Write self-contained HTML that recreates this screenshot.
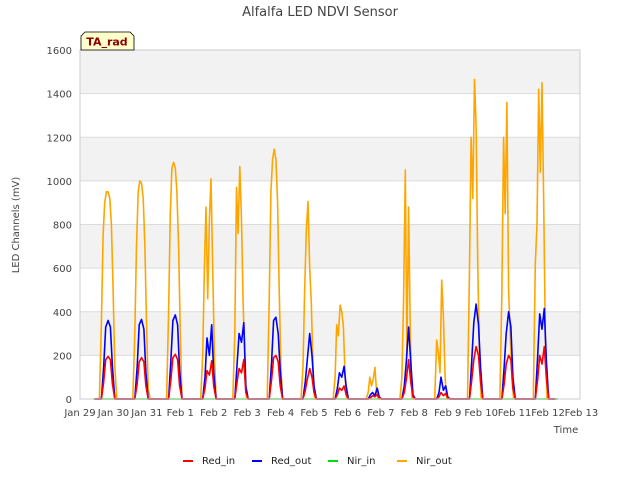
<!DOCTYPE html>
<html><head><meta charset="utf-8"><style>
body{margin:0;background:#fff;font-family:"Liberation Sans","DejaVu Sans",sans-serif;}
svg text{font-family:"DejaVu Sans","Liberation Sans",sans-serif;}
</style></head><body>
<svg id="chart" width="640" height="480" viewBox="0 0 640 480" xmlns="http://www.w3.org/2000/svg">
<rect width="640" height="480" fill="#fff"/>
<text x="320" y="16" text-anchor="middle" font-size="13" fill="#444">Alfalfa LED NDVI Sensor</text>
<g id="bands"></g><g id="grid"></g><g id="series"></g><g id="axes"></g>
<text transform="translate(19,225) rotate(-90)" text-anchor="middle" font-size="10" fill="#444">LED Channels (mV)</text>
<text x="566" y="433" text-anchor="middle" font-size="10" fill="#444">Time</text>
<g>
<path d="M81,50 L81,36 L85,32 L130,32 L134,36 L134,50 Z" fill="#ffffcc" stroke="#000" stroke-width="0.8"/>
<text x="107" y="45.5" text-anchor="middle" font-size="11" font-weight="bold" fill="#8b0000">TA_rad</text>
</g>
<g id="legend"></g>
</svg>
<script>
const yTicks=[0,200,400,600,800,1000,1200,1400,1600];
const xTickLabels=["Jan 29","Jan 30","Jan 31","Feb 1","Feb 2","Feb 3","Feb 4","Feb 5","Feb 6","Feb 7","Feb 8","Feb 9","Feb 10","Feb 11","Feb 12","Feb 13"];
const dayCenters=[0.84,1.84,2.85,3.87,4.83,5.86,6.87,7.83,8.82,9.83,10.87,11.85,12.82,13.82];
const nirOffsets=[-0.26,-0.2,-0.15,-0.1,-0.05,0,0.05,0.1,0.15,0.2,0.26];
const nirOut=[
[0,350,750,900,950,950,920,800,500,150,0],
[0,300,700,950,1000,990,920,700,350,50,0],
[0,400,850,1060,1085,1060,950,700,300,0,0],
[0,200,600,880,460,820,1010,600,200,0,0],
[0,300,970,760,1065,820,440,200,0,0,0],
[0,450,950,1100,1145,1100,900,500,150,0,0],
[0,150,490,770,905,600,440,150,0,0,0],
[0,100,340,290,430,400,330,100,0,0,0],
[0,30,100,60,90,145,40,0,0,0,0],
[0,100,460,1050,200,880,300,0,0,0,0],
[0,270,210,120,545,380,100,0,0,0,0],
[0,600,1200,920,1465,1250,600,200,0,0,0],
[0,500,1200,850,1360,500,300,100,0,0,0],
[0,620,800,1420,1040,1450,900,300,0,0,0]];
const redOffsets=[-0.2,-0.13,-0.07,0,0.07,0.13,0.2];
const redOut=[
[0,150,330,360,330,150,0],[0,150,340,365,320,120,0],[0,180,360,385,340,130,0],
[0,100,280,200,340,120,0],[0,160,300,260,350,60,0],[0,170,360,375,300,130,0],
[0,80,180,300,200,60,0],[0,50,120,100,150,60,0],[0,20,30,15,50,10,0],
[0,60,170,330,150,20,0],[0,30,100,40,60,10,0],[0,180,350,435,340,150,0],
[0,150,300,400,330,100,0],[0,200,390,320,415,180,0]];
const redIn=[
[0,80,180,195,180,70,0],[0,70,170,190,170,60,0],[0,90,190,205,180,60,0],
[0,50,130,110,175,60,0],[0,80,140,120,180,30,0],[0,90,190,200,170,60,0],
[0,40,90,140,100,30,0],[0,20,50,40,60,20,0],[0,5,15,10,20,5,0],
[0,30,90,180,70,10,0],[0,10,30,15,25,5,0],[0,90,180,240,200,80,0],
[0,70,160,200,180,50,0],[0,90,200,160,240,100,0]];
const nirIn=[0,0];

const L=80,R=580,T=50,B=399,x0=80,pxDay=33.43;
const X=d=>x0+d*pxDay, Y=v=>B-(v/1600)*(B-T);
const NS="http://www.w3.org/2000/svg";
function mk(tag,attrs,parent){const e=document.createElementNS(NS,tag);for(const k in attrs)e.setAttribute(k,attrs[k]);parent.appendChild(e);return e;}
const bands=document.getElementById('bands'),grid=document.getElementById('grid'),axes=document.getElementById('axes'),series=document.getElementById('series'),legend=document.getElementById('legend');
mk('rect',{x:L,y:T,width:R-L,height:B-T,fill:'#fff'},bands);
for(let i=1;i<yTicks.length;i+=2){const r=mk('rect',{x:L,y:Y(yTicks[i+1]??1600),width:R-L,height:Y(yTicks[i])-Y(yTicks[i+1]??1600),fill:'#f2f2f2'},bands);

}
yTicks.forEach(v=>{const l=mk('line',{x1:L,x2:R,y1:Y(v),y2:Y(v),stroke:'#dcdcdc','stroke-width':1},grid);


const t=mk('text',{x:L-8,y:Y(v)+4,'text-anchor':'end','font-size':10,fill:'#444'},axes);t.textContent=v;

});
mk('rect',{x:L,y:T,width:R-L,height:B-T,fill:'none',stroke:'#ccc'},axes);
xTickLabels.forEach((s,i)=>{const t=mk('text',{x:X(i),y:416,'text-anchor':'middle','font-size':10,fill:'#444'},axes);t.textContent=s;

});
function buildPath(offs,data){let pts=[[X(dayCenters[0]-0.4),Y(0)]];data.forEach((day,i)=>{day.forEach((v,j)=>pts.push([X(dayCenters[i]+offs[j]),Y(v)]));});pts.push([X(dayCenters[dayCenters.length-1]+0.4),Y(0)]);return 'M'+pts.map(p=>p[0].toFixed(1)+','+p[1].toFixed(1)).join('L');}
const nirInPath='M'+X(0.4)+','+Y(nirIn[0])+'L'+X(14.3)+','+Y(nirIn[1]);
const defs=[["nir-in-line",nirInPath,'#00dd00'],["nir-out-line",buildPath(nirOffsets,nirOut),'orange'],["red-out-line",buildPath(redOffsets,redOut),'blue'],["red-in-line",buildPath(redOffsets,redIn),'red']];
defs.forEach(d=>{const p=mk('path',{d:d[1],fill:'none',stroke:d[2],'stroke-width':1.6,'stroke-linejoin':'round'},series);

});
const leg=[["Red_in",'red',196],["Red_out",'blue',265],["Nir_in",'#00dd00',341],["Nir_out",'orange',410]];
leg.forEach(l=>{const g=mk('g',{},legend);


mk('line',{x1:l[2]-13,x2:l[2]-3,y1:461,y2:461,stroke:l[1],'stroke-width':2},g);
const t=mk('text',{x:l[2]+6,y:464,'font-size':10,fill:'#222'},g);t.textContent=l[0];});
</script>
</body></html>
